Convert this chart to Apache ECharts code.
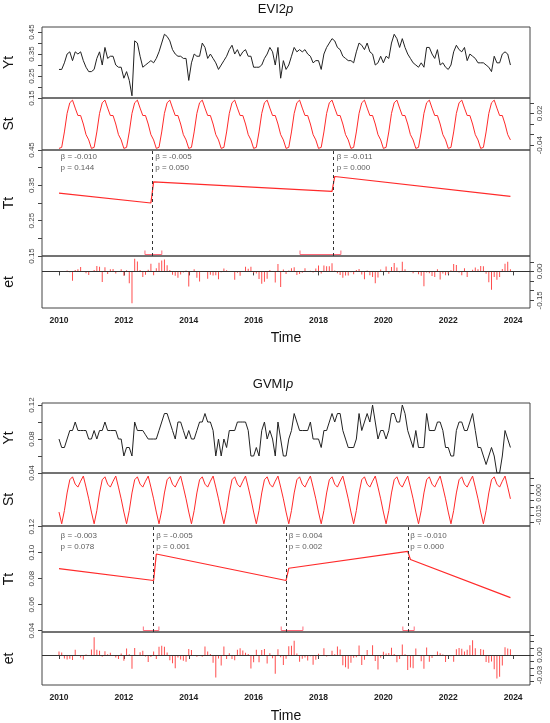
<!DOCTYPE html>
<html><head><meta charset="utf-8">
<script src="https://cdn.jsdelivr.net/npm/echarts@6/dist/echarts.min.js"></script>
<style>html,body{margin:0;padding:0;background:#fff}#c{width:550px;height:723px}</style>
</head><body><div id="c"></div>
<script>
// ---------- DATA ----------
const years = [2010,2011,2012,2013,2014,2015,2016,2017,2018,2019,2020,2021,2022,2023];
const xTicks = [2010,2012,2014,2016,2018,2020,2022,2024];
// EVI2p observed (monthly)
const evi2Yt = [
 0.28,0.28,0.31,0.35,0.36,0.32,0.36,0.35,0.36,0.32,0.29,0.27,
 0.27,0.28,0.33,0.36,0.30,0.38,0.33,0.34,0.34,0.30,0.29,0.29,
 0.24,0.27,0.23,0.16,0.41,0.40,0.34,0.29,0.30,0.31,0.32,0.31,
 0.33,0.36,0.40,0.44,0.43,0.41,0.37,0.35,0.34,0.34,0.33,0.33,
 0.23,0.31,0.35,0.34,0.34,0.40,0.38,0.33,0.35,0.33,0.31,0.28,
 0.30,0.32,0.34,0.37,0.39,0.35,0.37,0.34,0.36,0.37,0.34,0.34,
 0.29,0.29,0.29,0.30,0.33,0.35,0.38,0.36,0.30,0.38,0.24,0.32,
 0.28,0.30,0.34,0.38,0.36,0.37,0.36,0.37,0.35,0.34,0.31,0.32,
 0.32,0.28,0.35,0.38,0.40,0.42,0.41,0.38,0.37,0.34,0.33,0.32,
 0.32,0.31,0.36,0.40,0.39,0.37,0.40,0.36,0.35,0.30,0.31,0.34,
 0.31,0.34,0.33,0.40,0.44,0.42,0.38,0.42,0.38,0.35,0.33,0.31,
 0.30,0.29,0.31,0.29,0.38,0.38,0.35,0.33,0.37,0.30,0.31,0.29,
 0.28,0.30,0.36,0.39,0.37,0.36,0.38,0.32,0.35,0.34,0.33,0.31,
 0.31,0.31,0.30,0.29,0.27,0.34,0.31,0.31,0.35,0.36,0.35,0.30];
// EVI2p seasonal component for one year (Jan..Dec), repeated each year by the model
const evi2Season = [-0.046,-0.044,-0.015,0.020,0.040,0.045,0.030,0.016,0.016,0.000,-0.020,-0.030];
// EVI2p trend segments [time, value]
const evi2Trend = [[2010.0,0.328],[2012.833,0.300],[2012.917,0.360],[2018.417,0.333],[2018.5,0.375],[2023.917,0.319]];
const evi2Breaks = [2012.87, 2018.46];
const evi2CI = [[2012.65,2013.17],[2017.43,2018.69]];
const evi2Notes = [[2010.05,'β = -0.010','p = 0.144'],[2012.97,'β = -0.005','p = 0.050'],[2018.56,'β = -0.011','p = 0.000']];

// GVMIp observed (monthly)
const gvmiYt = [
 0.08,0.07,0.07,0.08,0.09,0.09,0.10,0.09,0.09,0.09,0.09,0.08,
 0.08,0.09,0.08,0.09,0.09,0.10,0.09,0.09,0.09,0.09,0.08,0.08,
 0.06,0.07,0.07,0.06,0.10,0.09,0.09,0.09,0.085,0.08,0.08,0.08,
 0.08,0.09,0.10,0.11,0.11,0.10,0.09,0.08,0.10,0.10,0.09,0.08,
 0.09,0.08,0.08,0.09,0.10,0.10,0.11,0.10,0.10,0.09,0.06,0.08,
 0.06,0.08,0.07,0.09,0.09,0.09,0.10,0.10,0.10,0.10,0.09,0.06,
 0.06,0.07,0.06,0.09,0.10,0.08,0.09,0.08,0.06,0.10,0.08,0.06,
 0.06,0.08,0.09,0.11,0.10,0.09,0.09,0.09,0.09,0.10,0.08,0.08,
 0.08,0.07,0.09,0.09,0.10,0.11,0.10,0.11,0.11,0.09,0.08,0.07,
 0.07,0.07,0.08,0.11,0.09,0.10,0.11,0.10,0.12,0.10,0.08,0.09,
 0.09,0.08,0.09,0.11,0.11,0.10,0.10,0.12,0.11,0.09,0.08,0.07,
 0.09,0.07,0.07,0.07,0.11,0.09,0.09,0.09,0.10,0.10,0.09,0.07,
 0.07,0.06,0.06,0.09,0.10,0.10,0.09,0.09,0.10,0.11,0.09,0.07,
 0.07,0.06,0.05,0.06,0.07,0.06,0.04,0.04,0.06,0.09,0.08,0.07];
const gvmiSeason = [-0.013,-0.021,-0.012,0.000,0.009,0.011,0.006,0.004,0.008,0.0115,0.004,-0.004];
const gvmiTrend = [[2010.0,0.0877],[2012.917,0.0786],[2013.0,0.099],[2017.0,0.0786],[2017.083,0.088],[2020.75,0.101],[2020.833,0.0947],[2023.917,0.0654]];
const gvmiBreaks = [2012.92, 2017.0, 2020.77];
const gvmiCI = [[2012.6,2013.08],[2016.85,2017.52],[2020.6,2020.95]];
const gvmiNotes = [[2010.05,'β = -0.003','p = 0.078'],[2013.0,'β = -0.005','p = 0.001'],[2017.08,'β = 0.004','p = 0.002'],[2020.83,'β = -0.010','p = 0.000']];

// ---------- BUILD ----------
const FONT = 'Liberation Sans';
const grids=[], xAxes=[], yAxes=[], series=[], graphics=[];
function trendAt(tr, t){
  for(let k=0;k<tr.length-1;k++){const a=tr[k],b=tr[k+1];
    if(t>=a[0]-1e-6 && t<=b[0]+1e-6) return a[1]+(b[1]-a[1])*(t-a[0])/(b[0]-a[0]);}
  return tr[tr.length-1][1];
}
const XMIN=2009.476, XMAX=2024.52;
function block(cfg){
  const n=cfg.yt.length;
  const yt=[],st=[],et=[];
  for(let i=0;i<n;i++){
    const t=years[Math.floor(i/12)]+(i%12)/12;
    const s=cfg.season[i%12];
    yt.push([t,cfg.yt[i]]);
    st.push([t,s]);
    et.push([t,+(cfg.yt[i]-s-trendAt(cfg.trend,t)).toFixed(4)]);
  }
  const names=['Yt','St','Tt','et'];
  cfg.panels.forEach((p,k)=>{
    const gi=grids.length;
    grids.push({left:42,right:20,top:p.top,height:p.h,show:true,borderColor:'#444',borderWidth:1,backgroundColor:'transparent'});
    const last=k===3;
    xAxes.push({type:'value',gridIndex:gi,min:XMIN,max:XMAX,splitLine:{show:false},
      axisLine:{show:false},
      axisTick:{show:last,length:4,lineStyle:{color:'#444'},customValues:xTicks},
      axisLabel:{show:last,customValues:xTicks,fontSize:8.5,color:'#222',fontFamily:FONT,fontWeight:'bold',margin:8,
        formatter:v=>String(Math.round(v))}});
    yAxes.push({type:'value',gridIndex:gi,min:p.min,max:p.max,position:p.pos,splitLine:{show:false},
      axisLine:{show:false},
      axisTick:{show:true,length:4,inside:false,lineStyle:{color:'#444'},customValues:p.ticks},
      axisLabel:{customValues:p.labels,rotate:90,fontSize:p.fs||8,color:'#444',fontFamily:FONT,margin:6,
        formatter:v=>v.toFixed(p.dec)}});
    graphics.push({type:'text',x:9,y:p.top+p.h/2,rotation:Math.PI/2,
      style:{text:names[k],font:'14px '+FONT,fill:'#111',textAlign:'center',textVerticalAlign:'middle'}});
  });
  const g0=grids.length-4;
  series.push({type:'line',xAxisIndex:g0,yAxisIndex:g0,data:yt,showSymbol:false,lineStyle:{color:'#222',width:1},silent:true});
  series.push({type:'line',xAxisIndex:g0+1,yAxisIndex:g0+1,data:st,showSymbol:false,lineStyle:{color:'#ff2a2a',width:1},silent:true});
  series.push({type:'line',xAxisIndex:g0+2,yAxisIndex:g0+2,data:cfg.trend,showSymbol:false,lineStyle:{color:'#ff2a2a',width:1.2},silent:true,
    markLine:{symbol:'none',silent:true,label:{show:false},lineStyle:{color:'#333',type:[3,3],width:1},data:cfg.breaks.map(b=>({xAxis:b}))}});
  series.push({type:'custom',xAxisIndex:g0+2,yAxisIndex:g0+2,data:cfg.ci,silent:true,
    renderItem:(params,api)=>{
      const a=api.coord([api.value(0),cfg.panels[2].min]);const b=api.coord([api.value(1),cfg.panels[2].min]);
      const y=a[1]-1.5;
      const st={stroke:'#ff6a7a',lineWidth:1};
      return {type:'group',children:[
        {type:'line',shape:{x1:a[0],y1:y,x2:b[0],y2:y},style:st},
        {type:'line',shape:{x1:a[0],y1:y-4,x2:a[0],y2:y},style:st},
        {type:'line',shape:{x1:b[0],y1:y-4,x2:b[0],y2:y},style:st}]};
    }});
  series.push({type:'scatter',xAxisIndex:g0+2,yAxisIndex:g0+2,symbolSize:0,silent:true,
    data:cfg.notes.map(nn=>({value:[nn[0],cfg.noteY],label:{formatter:nn[1]+'\n'+nn[2]}})),
    label:{show:true,position:'right',distance:0,fontSize:8,lineHeight:11,color:'#333',fontFamily:FONT,align:'left'}});
  series.push({type:'bar',xAxisIndex:g0+3,yAxisIndex:g0+3,data:et,barWidth:1,itemStyle:{color:'#ff4d4d'},silent:true,
    markLine:{symbol:'none',silent:true,label:{show:false},lineStyle:{color:'#333',type:'solid',width:1.2},data:[{yAxis:0}]}});
  graphics.push({type:'text',x:286,y:cfg.titleTop,style:{text:cfg.titleA,font:'13px '+FONT,fill:'#111',textAlign:'right'}});
  graphics.push({type:'text',x:286,y:cfg.titleTop,style:{text:'p',font:'italic 13px '+FONT,fill:'#111',textAlign:'left'}});
  graphics.push({type:'text',x:286,y:cfg.timeTop,style:{text:'Time',font:'14px '+FONT,fill:'#111',textAlign:'center'}});
}

block({yt:evi2Yt,season:evi2Season,trend:evi2Trend,breaks:evi2Breaks,ci:evi2CI,notes:evi2Notes,noteY:0.415,
  titleA:'EVI2',titleTop:3,timeTop:331,
  panels:[
   {top:27,h:71,min:0.15,max:0.473,pos:'left',ticks:[0.15,0.2,0.25,0.3,0.35,0.4,0.45],labels:[0.15,0.25,0.35,0.45],dec:2},
   {top:98,h:52,min:-0.049,max:0.049,pos:'right',ticks:[-0.04,-0.02,0,0.02,0.04],labels:[-0.04,0.02],dec:2},
   {top:150,h:106,min:0.15,max:0.45,pos:'left',ticks:[0.15,0.2,0.25,0.3,0.35,0.4,0.45],labels:[0.15,0.25,0.35,0.45],dec:2},
   {top:256,h:52,min:-0.19,max:0.08,pos:'right',ticks:[-0.15,-0.1,-0.05,0,0.05],labels:[-0.15,0],dec:2}]});
block({yt:gvmiYt,season:gvmiSeason,trend:gvmiTrend,breaks:gvmiBreaks,ci:gvmiCI,notes:gvmiNotes,noteY:0.1085,
  titleA:'GVMI',titleTop:378,timeTop:709,
  panels:[
   {top:403,h:70,min:0.04,max:0.1224,pos:'left',ticks:[0.04,0.06,0.08,0.10,0.12],labels:[0.04,0.08,0.12],dec:2},
   {top:473,h:53,min:-0.0225,max:0.0136,pos:'right',ticks:[-0.02,-0.015,-0.01,-0.005,0,0.005,0.01],labels:[-0.015,0],dec:3,fs:7},
   {top:526,h:106,min:0.039,max:0.1205,pos:'left',ticks:[0.04,0.06,0.08,0.10,0.12],labels:[0.04,0.06,0.08,0.10,0.12],dec:2},
   {top:632,h:53,min:-0.045,max:0.0345,pos:'right',ticks:[-0.04,-0.03,-0.02,-0.01,0,0.01,0.02,0.03],labels:[-0.03,0],dec:2}]});

const chart=echarts.init(document.getElementById('c'),null,{renderer:'canvas'});
chart.setOption({animation:false,backgroundColor:'#fff',grid:grids,xAxis:xAxes,yAxis:yAxes,series:series,graphic:graphics});
</script></body></html>
